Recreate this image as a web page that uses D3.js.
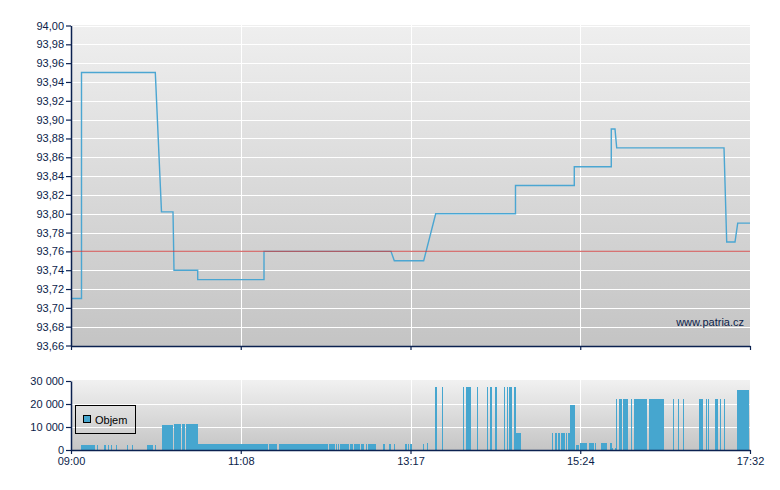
<!DOCTYPE html>
<html><head><meta charset="utf-8">
<script src="https://cdn.jsdelivr.net/npm/d3@7"></script>
<style>body{margin:0;background:#fff}svg{display:block;font-family:"Liberation Sans",Arial,sans-serif}</style>
</head><body><svg id="c" width="780" height="490"></svg>
<script>
// ---------- data ----------
const xTickLabels = ["09:00","11:08","13:17","15:24","17:32"];
const priceTickValues = [93.66,93.68,93.70,93.72,93.74,93.76,93.78,93.80,93.82,93.84,93.86,93.88,93.90,93.92,93.94,93.96,93.98,94.00];
const volTickValues = [0,10000,20000,30000];
const refValue = 93.76;
const seriesName = "Objem";
const watermark = "www.patria.cz";

const priceTimes = ["09:00:00","09:07:55","09:07:55","10:03:34","10:08:14","10:16:55","10:17:40","10:35:32","10:35:32","11:25:32","11:25:32","13:01:18","13:03:47","13:25:57","13:35:00","14:35:10","14:35:10","15:19:30","15:19:30","15:47:24","15:47:24","15:50:12","15:51:29","17:12:24","17:14:26","17:20:42","17:22:44","17:32:00"];
const priceValues = [93.71,93.71,93.95,93.95,93.802,93.802,93.74,93.74,93.73,93.73,93.76,93.76,93.75,93.75,93.80,93.80,93.83,93.83,93.85,93.85,93.89,93.89,93.87,93.87,93.77,93.77,93.79,93.79];

const volStart = ["09:07:32","09:19:23","09:25:07","09:28:08","09:30:10","09:33:42","09:42:27","09:46:00","09:57:05","09:59:02","10:03:34","10:08:37","10:17:40","10:23:56","10:26:43","10:35:32","11:29:05","11:36:51","11:55:55","12:13:16","12:14:46","12:19:49","12:21:20","12:22:50","12:30:23","12:33:10","12:38:40","12:42:27","12:43:57","12:55:16","12:59:47","13:03:20","13:11:51","13:13:53","13:15:24","13:25:12","13:28:13","13:34:28","13:39:32","13:55:22","13:57:51","14:06:09","14:13:27","14:15:43","14:19:29","14:26:17","14:28:32","14:30:16","14:34:03","14:35:19","15:02:42","15:04:58","15:07:13","15:09:29","15:13:02","15:14:32","15:16:16","15:20:34","15:23:49","15:30:36","15:34:54","15:39:39","15:46:26","15:48:10","15:49:59","15:50:57","15:53:13","15:56:14","16:02:16","16:04:32","16:15:50","16:33:56","16:37:42","16:41:29","16:53:33","16:58:49","17:00:20","17:05:36","17:09:23","17:12:24","17:22:12"];
const volEnd = ["09:18:06","09:20:08","09:26:24","09:28:53","09:30:55","09:34:28","09:43:12","09:46:45","09:58:35","10:01:50","10:04:19","10:16:41","10:23:10","10:26:11","10:35:32","11:28:19","11:35:06","11:55:28","12:12:49","12:14:01","12:19:04","12:20:35","12:22:05","12:29:38","12:32:25","12:37:55","12:40:56","12:43:25","12:49:46","12:56:33","13:01:04","13:04:05","13:13:22","13:14:20","13:17:08","13:25:57","13:28:58","13:35:59","13:40:30","13:56:21","14:01:37","14:07:07","14:14:26","14:17:27","14:21:14","14:27:15","14:29:31","14:32:32","14:35:19","14:39:19","15:03:27","15:06:28","15:08:44","15:12:30","15:14:01","15:16:16","15:20:02","15:23:03","15:29:05","15:34:22","15:35:53","15:44:10","15:47:56","15:48:55","15:50:57","15:51:57","15:55:29","16:00:00","16:03:01","16:14:20","16:27:09","16:34:42","16:38:28","16:42:14","16:56:34","16:59:35","17:01:05","17:07:52","17:10:08","17:13:09","17:31:15"];
const volValue = [2200,2200,2200,2200,2200,2200,2200,2200,2200,2200,2200,10900,11300,11300,11300,2600,2600,2600,2600,2600,2600,2600,2600,2600,2600,2600,2600,2600,2600,2600,2600,2600,2600,2600,2600,2600,3000,27500,27500,27500,27500,27500,27500,27500,27500,27500,27500,27500,27500,7400,7400,7400,7400,7400,7400,7400,19500,2200,3000,3000,3000,3000,3000,900,900,22200,22200,22200,22200,22200,22200,22200,22200,22200,22200,22200,22200,22200,22200,22200,26100];

// ---------- setup ----------
const parseT = d3.timeParse("%H:%M:%S");
const svg = d3.select("#c");
const axisColor = "#0b2150";
const textColor = "#0b1d4a";
const lineColor = "#4ba6d2";
const barColor = "#46a6cf";
const loc = d3.formatLocale({decimal: ",", thousands: "\u00a0", grouping: [3], currency: ["", ""]});
const fmtPrice = loc.format(",.2f");
const fmtVol = loc.format(",.0f");

const t0 = parseT("09:00:00"), t1 = parseT("17:32:00");
const x = d3.scaleTime().domain([t0, t1]).range([71, 750]);
const xTickValues = d3.range(5).map(i => new Date(+t0 + i * (t1 - t0) / 4));

const yP = d3.scaleLinear().domain([93.66, 94.00]).range([345.5, 25.5]);
const yV = d3.scaleLinear().domain([0, 30000]).range([450, 381]);

const defs = svg.append("defs");
function grad(id, c0, c1) {
  const g = defs.append("linearGradient").attr("id", id).attr("x1", 0).attr("y1", 0).attr("x2", 0).attr("y2", 1);
  g.append("stop").attr("offset", "0%").attr("stop-color", c0);
  g.append("stop").attr("offset", "100%").attr("stop-color", c1);
}
grad("gP", "#efefef", "#c4c4c4");
grad("gV", "#f1f1f1", "#c5c5c5");

// ---------- price panel ----------
const gP = svg.append("g");
gP.append("rect").attr("x", 71).attr("y", 25).attr("width", 679).attr("height", 321).attr("fill", "url(#gP)");
gP.selectAll("line.hg").data(priceTickValues.slice(1)).join("line").attr("class", "hg")
  .attr("x1", 71).attr("x2", 750).attr("y1", d => Math.round(yP(d)) + 0.5).attr("y2", d => Math.round(yP(d)) + 0.5)
  .attr("stroke", "#fff").attr("stroke-width", 1);
gP.selectAll("line.vg").data(xTickValues.slice(1, 4)).join("line").attr("class", "vg")
  .attr("x1", d => Math.round(x(d)) + 0.5).attr("x2", d => Math.round(x(d)) + 0.5).attr("y1", 25).attr("y2", 346)
  .attr("stroke", "#fff").attr("stroke-width", 1);
const priceData = priceTimes.map((t, i) => ({t: parseT(t), v: priceValues[i]}));
gP.append("path").datum(priceData)
  .attr("d", d3.line().x(d => x(d.t)).y(d => yP(d.v)))
  .attr("fill", "none").attr("stroke", lineColor).attr("stroke-width", 1.4);
gP.append("line").attr("x1", 71).attr("x2", 750).attr("y1", yP(refValue)).attr("y2", yP(refValue))
  .attr("stroke", "#c94444").attr("stroke-opacity", 0.75).attr("stroke-width", 1.2);
gP.append("text").attr("x", 744).attr("y", 326).attr("text-anchor", "end")
  .attr("font-size", 11).attr("fill", textColor).text(watermark);

const axP = gP.append("g").attr("transform", "translate(71,0)")
  .call(d3.axisLeft(yP).tickValues(priceTickValues).tickFormat(fmtPrice).tickSize(5).tickSizeOuter(0).tickPadding(2));
const axPB = gP.append("g").attr("transform", "translate(0,346)")
  .call(d3.axisBottom(x).tickValues(xTickValues).tickFormat("").tickSize(4).tickSizeOuter(0));

// ---------- volume panel ----------
const gV = svg.append("g");
gV.append("rect").attr("x", 71).attr("y", 380).attr("width", 679).attr("height", 70).attr("fill", "url(#gV)");
gV.selectAll("line.hg").data(volTickValues.slice(1, 3)).join("line").attr("class", "hg")
  .attr("x1", 71).attr("x2", 750).attr("y1", d => Math.round(yV(d)) + 0.5).attr("y2", d => Math.round(yV(d)) + 0.5)
  .attr("stroke", "#fff").attr("stroke-width", 1);
gV.selectAll("line.vg").data(xTickValues.slice(1, 4)).join("line").attr("class", "vg")
  .attr("x1", d => Math.round(x(d)) + 0.5).attr("x2", d => Math.round(x(d)) + 0.5).attr("y1", 380).attr("y2", 450)
  .attr("stroke", "#fff").attr("stroke-width", 1);
const volData = volStart.map((s, i) => ({s: parseT(s), e: parseT(volEnd[i]), v: volValue[i]}));
gV.selectAll("rect.bar").data(volData).join("rect").attr("class", "bar")
  .attr("x", d => x(d.s)).attr("width", d => Math.max(1, x(d.e) - x(d.s)))
  .attr("y", d => yV(d.v)).attr("height", d => yV(0) - yV(d.v))
  .attr("fill", barColor).attr("shape-rendering", "crispEdges");

// legend
const lg = gV.append("g");
lg.append("rect").attr("x", 75.5).attr("y", 405.5).attr("width", 60).attr("height", 28)
  .attr("fill", "none").attr("stroke", "#000").attr("stroke-width", 1);
lg.append("rect").attr("x", 83.5).attr("y", 415.5).attr("width", 7).attr("height", 7)
  .attr("fill", barColor).attr("stroke", "#000").attr("stroke-width", 1);
lg.append("text").attr("x", 95).attr("y", 424).attr("font-size", 11).attr("fill", "#000").text(seriesName);

const axV = gV.append("g").attr("transform", "translate(71,0)")
  .call(d3.axisLeft(yV).tickValues(volTickValues).tickFormat(fmtVol).tickSize(5).tickSizeOuter(0).tickPadding(2));
const axVB = gV.append("g").attr("transform", "translate(0,450)")
  .call(d3.axisBottom(x).tickValues(xTickValues).tickFormat((d, i) => xTickLabels[i]).tickSize(4).tickSizeOuter(0).tickPadding(3));

// axis styling
svg.selectAll(".domain").attr("stroke", axisColor).attr("stroke-width", 1.5);
svg.selectAll(".tick line").attr("stroke", axisColor).attr("stroke-width", 1.2);
svg.selectAll(".tick text").attr("fill", textColor).attr("font-size", 11)
  .attr("font-family", '"Liberation Sans", Arial, sans-serif');
</script></body></html>
